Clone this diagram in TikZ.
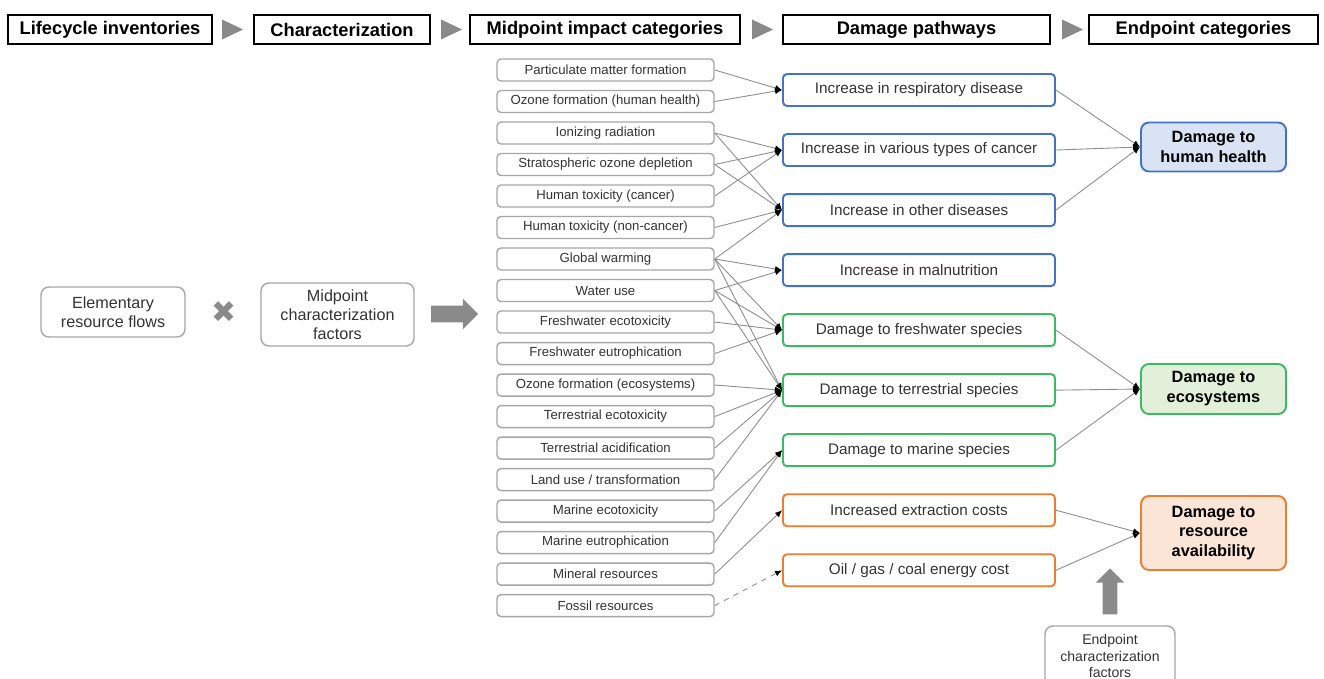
\documentclass[tikz,border=0pt]{standalone}
\usepackage{fontspec}
\setmainfont{Liberation Sans}
\newfontfamily\symfont{DejaVu Sans}
\usepackage{xcolor}
\usetikzlibrary{shapes.arrows,arrows.meta,positioning}
\definecolor{hhblue}{HTML}{4472C4}
\definecolor{hhfill}{HTML}{DAE3F3}
\definecolor{ecogreen}{HTML}{3CB963}
\definecolor{ecofill}{HTML}{E2F0D9}
\definecolor{resorange}{HTML}{ED7D31}
\definecolor{resfill}{HTML}{FBE5D6}
\definecolor{boxgray}{HTML}{A6A6A6}
\definecolor{txtgray}{HTML}{333333}
\definecolor{linegray}{HTML}{8C8C8C}
\definecolor{arrgray}{HTML}{8A8A8A}

\begin{document}
\begin{tikzpicture}[
  node distance=0.162cm and 0.6cm,
  headbox/.style={rectangle,draw=black,line width=0.8pt,minimum height=0.58cm,font=\fontsize{10.4}{12}\selectfont\bfseries},
  midbox/.style={rectangle,draw=boxgray,line width=0.8pt,rounded corners=0.08cm,minimum width=4.34cm,minimum height=0.44cm,inner sep=0pt,text=txtgray,font=\fontsize{7.5}{9}\selectfont},
  dmgbox/.style={rectangle,line width=1.1pt,rounded corners=0.08cm,fill=white,minimum width=5.44cm,minimum height=0.64cm,inner sep=0pt,text=txtgray,font=\fontsize{8.7}{10}\selectfont},
  endbox/.style={rectangle,line width=1.1pt,rounded corners=0.16cm,minimum width=2.9cm,align=center,font=\fontsize{9.3}{11.3}\selectfont\bfseries},
  side/.style={rectangle,draw=boxgray,line width=0.8pt,rounded corners=0.16cm,align=center,text=txtgray,font=\fontsize{9.2}{10.8}\selectfont},
  arr/.style={draw=linegray,line width=0.5pt,-{Latex[length=1.4mm,width=1.2mm,color=black]}},
  blockarr/.style={single arrow,fill=arrgray,draw=none,inner xsep=0pt,single arrow head extend=0.14cm}
]
\useasboundingbox (0,0) rectangle (26.48,-13.58);
% stage headers
\node[headbox,minimum width=4.08cm] (lci) at (2.2,-0.59) {Lifecycle inventories};
\node[headbox,minimum width=3.52cm] (char) at (6.84,-0.59) {Characterization};
\node[headbox,minimum width=5.4cm] (midh) at (12.1,-0.59) {Midpoint impact categories};
\node[headbox,minimum width=5.34cm] (dmgh) at (18.33,-0.59) {Damage pathways};
\node[headbox,minimum width=4.58cm] (endh) at (24.07,-0.59) {Endpoint categories};
\foreach \x in {4.65,9.03,15.25,21.45}
  \fill[arrgray] (\x-0.21,-0.39) -- (\x+0.21,-0.59) -- (\x-0.21,-0.79) -- cycle;
% characterization
\node[side,minimum width=2.88cm,minimum height=1.0cm] (erf) at (2.26,-6.24) {Elementary\\resource flows};
\node[text=arrgray,font=\symfont\fontsize{17}{17}\selectfont] (times) at (4.48,-6.24) {✖};
\node[side,minimum width=3.06cm,minimum height=1.26cm] (mcf) at (6.75,-6.29) {Midpoint\\characterization\\factors};
\node[blockarr,inner ysep=0.16cm,minimum height=0.94cm,minimum width=0.6cm] (go) at (9.01,-6.28) {};
% midpoint categories
\node[midbox] (m1) at (12.11,-1.40) {Particulate matter formation};
\node[midbox,below=of m1] (m2) {Ozone formation (human health)};
\node[midbox,below=of m2] (m3) {Ionizing radiation};
\node[midbox,below=of m3] (m4) {Stratospheric ozone depletion};
\node[midbox,below=of m4] (m5) {Human toxicity (cancer)};
\node[midbox,below=of m5] (m6) {Human toxicity (non-cancer)};
\node[midbox,below=of m6] (m7) {Global warming};
\node[midbox,below=of m7] (m8) {Water use};
\node[midbox,below=of m8] (m9) {Freshwater ecotoxicity};
\node[midbox,below=of m9] (m10) {Freshwater eutrophication};
\node[midbox,below=of m10] (m11) {Ozone formation (ecosystems)};
\node[midbox,below=of m11] (m12) {Terrestrial ecotoxicity};
\node[midbox,below=of m12] (m13) {Terrestrial acidification};
\node[midbox,below=of m13] (m14) {Land use / transformation};
\node[midbox,below=of m14] (m15) {Marine ecotoxicity};
\node[midbox,below=of m15] (m16) {Marine eutrophication};
\node[midbox,below=of m16] (m17) {Mineral resources};
\node[midbox,below=of m17] (m18) {Fossil resources};
% damage pathways
\node[dmgbox,draw=hhblue] (p1) at (18.38,-1.80) {Increase in respiratory disease};
\node[dmgbox,draw=hhblue,below=0.522cm of p1] (p2) {Increase in various types of cancer};
\node[dmgbox,draw=hhblue,below=0.522cm of p2] (p3) {Increase in other diseases};
\node[dmgbox,draw=hhblue,below=0.522cm of p3] (p4) {Increase in malnutrition};
\node[dmgbox,draw=ecogreen,below=0.522cm of p4] (p5) {Damage to freshwater species};
\node[dmgbox,draw=ecogreen,below=0.522cm of p5] (p6) {Damage to terrestrial species};
\node[dmgbox,draw=ecogreen,below=0.522cm of p6] (p7) {Damage to marine species};
\node[dmgbox,draw=resorange,below=0.522cm of p7] (p8) {Increased extraction costs};
\node[dmgbox,draw=resorange,below=0.522cm of p8] (p9) {Oil / gas / coal energy cost};
% endpoints
\node[endbox,draw=hhblue,fill=hhfill,minimum height=0.98cm] (hh) at (24.27,-2.94) {Damage to\\human health};
\node[endbox,draw=ecogreen,fill=ecofill,minimum height=1.0cm] (eco) at (24.27,-7.78) {Damage to\\ecosystems};
\node[endbox,draw=resorange,fill=resfill,minimum height=1.48cm] (res) at (24.27,-10.66) {Damage to\\resource\\availability};
\node[side,minimum width=2.6cm,minimum height=1.2cm,font=\fontsize{8}{9.6}\selectfont] (ecf) at (22.2,-13.12) {Endpoint\\characterization\\factors};
\node[blockarr,rotate=90,inner ysep=0.14cm,minimum height=0.92cm,minimum width=0.56cm] (up) at (22.2,-11.9) {};
% links
\foreach \a/\b in {1/1,2/1,3/2,3/3,4/2,4/3,5/2,6/3,7/3,7/4,7/5,7/6,8/4,8/5,8/6,9/5,10/5,11/6,12/6,13/6,14/6,15/7,16/7,17/8}
  { \draw[arr] (m\a.east) -- (p\b.west); }
\draw[arr,dashed] (m18.east) -- (p9.west);
\foreach \b in {1,2,3} { \draw[arr] (p\b.east) -- (hh.west); }
\foreach \b in {5,6,7} { \draw[arr] (p\b.east) -- (eco.west); }
\foreach \b in {8,9} { \draw[arr] (p\b.east) -- (res.west); }
\end{tikzpicture}
\end{document}
